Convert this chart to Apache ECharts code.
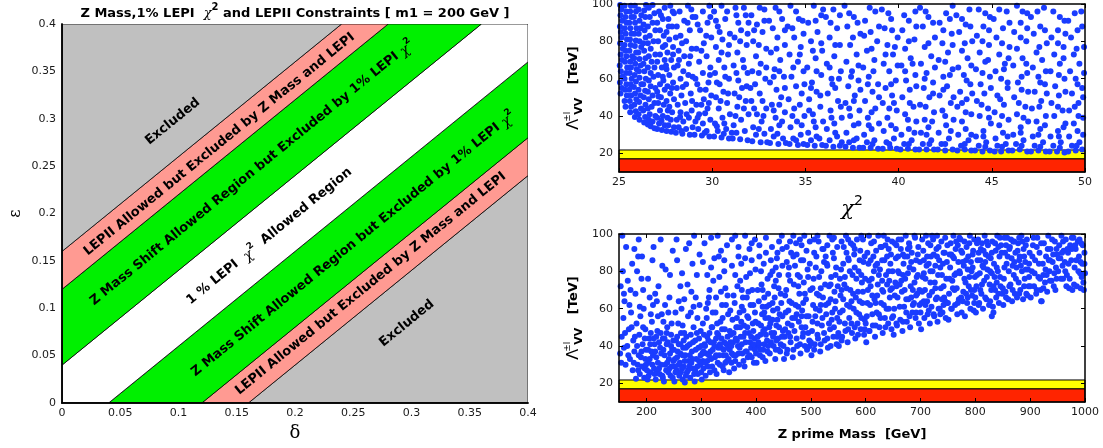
<!DOCTYPE html>
<html>
<head>
<meta charset="utf-8">
<script src="https://cdn.jsdelivr.net/npm/echarts@6/dist/echarts.min.js"></script>
<style>
  html, body { margin: 0; padding: 0; background: #ffffff; }
  #chart { width: 1103px; height: 448px; }
</style>
</head>
<body>
<div id="chart"></div>
<script>
// ---------------- data ----------------
// left panel: regions of the (delta, epsilon) plane bounded by epsilon - delta = const
const deltaRange = [0, 0.4];
const epsRange = [0, 0.4];
const bandEdges = [-0.4, -0.16, -0.12, -0.04, 0.04, 0.12, 0.16, 0.4];
const bandKinds = ['excluded', 'lepii', 'zshift', 'lepi', 'zshift', 'lepii', 'excluded'];

const regionTexts = [
  'Excluded',
  'LEPII Allowed but Excluded by Z Mass and LEPI',
  'Z Mass Shift Allowed Region but Excluded by 1% LEPI {chi|χ}{sup|2}',
  '1 % LEPI  {chi|χ}{sup|2}  Allowed Region',
  'Z Mass Shift Allowed Region but Excluded by 1% LEPI {chi|χ}{sup|2}',
  'LEPII Allowed but Excluded by Z Mass and LEPI',
  'Excluded'
];
const regionTextAt = [
  [0.095, 0.297], [0.135, 0.273], [0.163, 0.243], [0.178, 0.176],
  [0.250, 0.168], [0.265, 0.126], [0.296, 0.084]
];

// right panels: LEP exclusion strips in Lambda [TeV]
const lepStrips = [[10, 17.1], [17.1, 21.8]];
const lambdaTicks = [20, 40, 60, 80, 100];
const massTicks = [200, 300, 400, 500, 600, 700, 800, 900, 1000];

// scan points: [chi^2, Lambda]
const chiSqPoints = [
[25.08,52],[25.15,55],[25.05,58],[25.18,61],[25.1,64],[25.04,67],[25.16,70],[25.09,73],[25.2,76],[25.06,79],[25.14,82],[25.1,85],[25.05,88],[25.17,91],[25.08,94],[25.12,97],[25.06,99.5],
[25.35,45],[25.3,48],[25.42,51],[25.33,54],[25.4,57],[25.3,60],[25.38,63],[25.44,66],[25.32,69],[25.4,72],[25.35,75],[25.3,78],[25.43,81],[25.36,84],[25.31,87],[25.41,90],[25.34,93],[25.39,96],[25.3,99],
[25.6,42],[25.65,45],[25.58,48],[25.66,51],[25.55,54],[25.62,57],[25.68,60],[25.57,63],[25.64,66],[25.6,69],[25.7,72],[25.56,75],[25.63,78],[25.59,81],[25.67,84],[25.61,87],[25.55,90],[25.66,93],[25.6,96],[25.64,99],
[25.85,39.5],[25.9,42.5],[25.82,46],[25.93,49],[25.86,52],[25.8,55.5],[25.91,58.5],[25.84,62],[25.95,65],[25.87,68],[25.81,71],[25.92,74],[25.85,77.5],[25.9,80.5],[25.83,84],[25.94,87],[25.86,90],[25.8,93],[25.91,96],[25.85,99],
[26.1,38],[26.05,41],[26.18,44],[26.08,47.5],[26.15,51],[26.05,54],[26.2,57],[26.1,60.5],[26.07,64],[26.16,67],[26.1,70.5],[26.04,74],[26.19,77],[26.1,80],[26.06,84],[26.15,87],[26.1,91],[26.2,94],[26.05,97],
[26.35,36.5],[26.4,39.5],[26.3,43],[26.42,46],[26.33,50],[26.4,53.5],[26.3,57],[26.44,60],[26.36,64],[26.31,68],[26.42,71],[26.35,75],[26.3,79],[26.43,82],[26.37,86],[26.32,89],[26.41,93],[26.35,96.5],[26.45,99.5],
[26.55,35.5],[26.7,34.5],[26.9,33.5],[26.6,38],[26.8,37],[26.65,41],[26.95,40],[26.55,44],[26.75,45],[26.9,47],[26.6,49],[26.8,51],[26.55,53],[26.7,56],[26.95,55],[26.6,59],[26.85,61],[26.7,63],[26.55,66],[26.9,66],[26.75,69],[26.6,72],[26.95,73],[26.7,76],[26.55,79],[26.85,80],[26.65,83],[26.95,86],[26.55,88],[26.8,90],[26.65,93],[26.9,95],[26.6,98],[26.8,99.5],
[27.05,33],[27.3,32.5],[27.15,36],[27.45,35],[27.05,39],[27.35,40],[27.2,43],[27.1,47],[27.4,46],[27.25,50],[27.05,53],[27.45,54],[27.2,57],[27.35,61],[27.1,62],[27.3,66],[27.05,69],[27.45,70],[27.2,73],[27.35,77],[27.1,80],[27.4,83],[27.2,86],[27.05,90],[27.35,92],[27.15,96],[27.45,98],
[27.55,32],[27.8,31.5],[27.65,35],[27.95,34],[27.6,39],[27.85,42],[27.7,45],[27.55,48],[27.95,49],[27.75,52],[27.6,56],[27.9,58],[27.7,62],[27.55,65],[27.95,66],[27.8,70],[27.6,74],[27.9,77],[27.7,81],[27.55,85],[27.85,88],[27.65,92],[27.95,95],[27.75,99],
[28.05,31],[28.4,30.5],[28.8,30],[28.2,34],[28.6,33],[28.95,34],[28.1,38],[28.45,37],[28.75,39],[28.3,42],[28.9,43],[28.15,46],[28.55,47],[28.35,51],[28.85,52],[28.1,55],[28.6,57],[28.3,60],[28.95,61],[28.45,64],[28.15,67],[28.75,68],[28.5,72],[28.2,75],[28.9,76],[28.6,80],[28.3,83],[28.8,86],[28.1,88],[28.5,91],[28.95,93],[28.25,96],[28.7,99],
[29.05,30],[29.45,29.5],[29.85,29],[29.25,33],[29.7,32],[29.1,37],[29.5,36],[29.9,38],[29.3,41],[29.75,44],[29.15,46],[29.55,49],[29.95,51],[29.35,54],[29.8,58],[29.1,60],[29.5,63],[29.9,66],[29.3,69],[29.7,72],[29.15,76],[29.55,79],[29.95,82],[29.35,86],[29.75,90],[29.1,93],[29.5,96],[29.85,99],
[30.1,29],[30.5,28.5],[30.9,28],[30.3,32],[30.75,33],[30.15,36],[30.55,39],[30.95,41],[30.35,44],[30.8,47],[30.2,50],[30.6,53],[30.4,57],[30.9,60],[30.15,63],[30.65,66],[30.35,70],[30.85,73],[30.2,77],[30.55,81],[30.95,84],[30.3,88],[30.7,92],[30.1,96],[30.5,99],
[31.1,28],[31.5,27.5],[31.9,27],[31.3,31],[31.75,32],[31.15,35],[31.55,38],[31.95,41],[31.35,45],[31.8,48],[31.2,52],[31.6,55],[31.4,59],[31.9,63],[31.15,67],[31.65,70],[31.35,74],[31.85,78],[31.2,82],[31.55,86],[31.95,90],[31.3,94],[31.7,98],
[32.15,26.5],[32.6,26],[32.95,26],[32.35,30],[32.8,30.5],[32.2,34],[32.65,37],[32.4,41],[32.9,44],[32.1,48],[32.55,52],[32.3,57],[32.85,60],[32.15,64],[32.6,68],[32.35,72],[32.9,76],[32.2,80],[32.7,85],[32.4,89],[32.1,94],[32.8,97],
[33.1,25.5],[33.55,25],[33.95,25.5],[33.3,29],[33.8,28],[33.15,33],[33.6,35],[33.4,39],[33.9,42],[33.2,46],[33.7,50],[33.45,54],[33.1,58],[33.85,61],[33.35,65],[33.65,70],[33.15,74],[33.9,78],[33.5,82],[33.25,87],[33.75,92],[33.4,98],
[34.15,25],[34.6,24.5],[34.9,25],[34.35,28],[34.75,30],[34.2,34],[34.55,37],[34.95,40],[34.4,44],[34.1,49],[34.8,52],[34.5,56],[34.25,61],[34.9,64],[34.6,69],[34.15,73],[34.75,77],[34.4,82],[34.05,88],[34.85,91],[34.5,96],[34.2,99],
[35.1,24.5],[35.5,24],[35.9,24.5],[35.3,27],[35.75,28],[35.15,31],[35.55,34],[35.95,37],[35.4,41],[35.8,45],[35.2,49],[35.6,53],[35.35,58],[35.85,62],[35.1,66],[35.55,71],[35.9,75],[35.3,80],[35.65,85],[35.15,90],[35.85,94],[35.45,99],
[36.1,24],[36.5,23.5],[36.85,24],[36.3,27],[36.7,29],[36.15,33],[36.55,36],[36.95,39],[36.35,43],[36.75,48],[36.2,52],[36.6,55],[36.4,60],[36.9,64],[36.15,68],[36.55,72],[36.85,78],[36.3,82],[36.7,87],[36.1,93],[36.5,97],
[37.15,23.5],[37.55,23],[37.9,23],[37.35,26],[37.75,28],[37.2,31],[37.6,35],[37.4,40],[37.9,43],[37.15,47],[37.65,51],[37.3,56],[37.85,59],[37.5,64],[37.2,69],[37.75,73],[37.4,78],[37.95,84],[37.25,88],[37.6,93],[37.1,99],
[38.1,23],[38.5,23],[38.9,22.5],[38.3,26],[38.7,27],[38.15,30],[38.55,33],[38.95,36],[38.35,39],[38.75,44],[38.2,48],[38.6,53],[38.9,57],[38.4,61],[38.1,66],[38.7,70],[38.3,75],[38.85,80],[38.5,85],[38.2,91],[38.75,96],
[39.15,22.5],[39.55,23],[39.9,22.5],[39.35,26],[39.75,28],[39.2,32],[39.6,35],[39.4,39],[39.9,43],[39.15,47],[39.65,51],[39.3,55],[39.85,59],[39.5,64],[39.2,68],[39.7,73],[39.4,78],[39.95,82],[39.25,87],[39.6,92],[39.1,97],
[40.1,22],[40.5,22.5],[40.9,22],[40.3,25],[40.7,27],[40.15,30],[40.55,33],[40.95,37],[40.35,41],[40.8,45],[40.2,50],[40.6,54],[40.4,59],[40.9,62],[40.15,67],[40.65,71],[40.35,76],[40.85,81],[40.2,86],[40.55,91],[40.9,96],
[41.1,22],[41.5,22],[41.9,22],[41.3,25],[41.75,27],[41.2,31],[41.6,34],[41.4,38],[41.9,42],[41.15,46],[41.65,50],[41.35,55],[41.85,58],[41.5,63],[41.2,68],[41.75,72],[41.4,77],[41.95,82],[41.3,88],[41.6,93],[41.15,98],
[42.1,22],[42.5,21.5],[42.9,22],[42.3,25],[42.7,28],[42.15,31],[42.55,35],[42.95,38],[42.35,43],[42.8,47],[42.2,51],[42.6,56],[42.4,61],[42.9,65],[42.15,70],[42.65,74],[42.35,79],[42.85,84],[42.2,90],[42.55,95],[42.9,99],
[43.15,21.5],[43.55,22],[43.9,21.5],[43.35,24],[43.75,27],[43.2,30],[43.6,33],[43.4,37],[43.9,41],[43.15,45],[43.65,49],[43.3,53],[43.85,57],[43.5,62],[43.2,66],[43.7,71],[43.4,75],[43.95,80],[43.25,85],[43.6,89],[43.1,94],[43.8,97],
[44.1,21.5],[44.5,21],[44.9,21.5],[44.3,24],[44.7,26],[44.15,29],[44.55,32],[44.95,36],[44.35,40],[44.8,44],[44.2,48],[44.6,52],[44.4,57],[44.9,61],[44.15,65],[44.65,69],[44.35,74],[44.85,78],[44.2,83],[44.55,88],[44.9,93],[44.3,97],
[45.15,21],[45.5,21],[45.9,21.5],[45.3,24],[45.75,25],[45.2,28],[45.6,31],[45.4,35],[45.9,38],[45.15,42],[45.65,46],[45.3,51],[45.85,55],[45.5,60],[45.2,64],[45.7,68],[45.4,73],[45.95,77],[45.25,82],[45.6,87],[45.1,92],[45.8,96],
[46.1,21.5],[46.5,22],[46.9,21],[46.3,25],[46.7,27],[46.15,30],[46.55,34],[46.95,37],[46.35,41],[46.8,45],[46.2,50],[46.6,54],[46.4,58],[46.9,63],[46.15,67],[46.65,71],[46.35,76],[46.85,80],[46.2,85],[46.55,90],[46.9,95],[46.35,99],
[47.1,21],[47.5,21.5],[47.9,21],[47.3,24],[47.75,26],[47.2,29],[47.6,33],[47.4,37],[47.9,40],[47.15,44],[47.65,48],[47.3,53],[47.85,57],[47.5,61],[47.2,66],[47.7,70],[47.4,74],[47.95,79],[47.25,84],[47.6,88],[47.1,93],[47.8,98],
[48.1,21],[48.5,21],[48.9,20.5],[48.3,24],[48.7,26],[48.15,29],[48.55,32],[48.95,36],[48.35,40],[48.8,43],[48.2,47],[48.6,51],[48.4,56],[48.9,60],[48.15,64],[48.65,68],[48.35,73],[48.85,77],[48.2,82],[48.55,86],[48.9,91],[48.3,96],
[49.1,21],[49.5,21.5],[49.85,22],[49.3,24],[49.7,26],[49.15,29],[49.6,32],[49.4,36],[49.9,39],[49.15,43],[49.65,47],[49.3,52],[49.85,55],[49.5,60],[49.2,64],[49.7,68],[49.4,73],[49.95,77],[49.25,82],[49.6,86],[49.1,91],[49.8,96],
[27.28,37.5],[27.62,43],[27.83,55],[27.38,59],[27.9,73],[27.48,78],[27.67,88],[27.25,94],[27.88,96],[27.52,67],[27.12,50.5],[27.78,38],
[28.28,39.5],[28.63,41],[28.92,48],[28.42,55.5],[28.72,62],[28.22,70],[28.82,72],[28.38,79],[28.68,90],[28.05,82],[28.88,97],[28.35,32],
[29.22,39],[29.62,41.5],[29.42,46],[29.82,47],[29.65,54],[29.2,57],[29.88,62],[29.42,75],[29.68,83],[29.22,89],[29.9,93],[29.6,31],
[30.25,34.5],[30.65,36],[30.45,48],[30.85,52],[30.25,58],[30.7,61],[30.5,74],[30.9,78],[30.4,85],[30.8,96],[30.2,91],[30.62,30.5],
[31.25,40],[31.7,44],[31.45,50],[31.85,56],[31.3,63],[31.7,66],[31.5,80],[31.9,84],[31.4,90],[31.8,94],[31.25,98],[31.05,31],
[32.5,33],[32.75,40],[32.25,44],[32.7,48],[32.5,63],[32.9,66],[32.5,78],[32.25,86],[32.8,91],[32.55,98],[32.05,55],
[33.5,30.5],[33.75,37],[33.3,43],[33.6,46],[33.9,55],[33.3,61],[33.6,64],[33.45,76],[33.9,86],[33.05,91],[33.6,96],
[34.5,27],[34.8,35],[34.3,40],[34.7,46],[34.95,57],[34.35,66],[34.7,73],[34.9,84],[34.3,87],[34.65,92],
[35.6,29],[35.45,37],[35.8,51],[35.3,55],[35.6,64],[35.4,75],[35.85,79],[35.55,91],[35.95,97],[35.2,43],
[36.6,31],[36.4,39],[36.9,45],[36.45,57],[36.8,60],[36.3,66],[36.6,78],[36.35,90],[36.85,94],[36.95,26],
[37.6,27],[37.85,36],[37.35,44],[37.6,48],[37.95,54],[37.45,61],[37.85,67],[37.55,82],[37.35,95],[37.8,90],
[38.6,25],[38.4,35],[38.55,42],[38.95,50],[38.35,57],[38.65,64],[38.55,76],[38.15,83],[38.95,88],[38.45,98],
[39.5,25],[39.85,33],[39.5,44],[39.75,47],[39.6,57],[39.95,67],[39.3,73],[39.8,77],[39.65,86],[39.45,95],
[40.55,25],[40.85,31],[40.5,38],[40.6,47],[40.95,56],[40.35,64],[40.75,68],[40.55,80],[40.95,88],[40.3,94],
[41.65,25],[41.5,30],[41.8,37],[41.45,45],[41.85,52],[41.4,60],[41.95,66],[41.6,79],[41.85,90],[41.45,96],
[42.5,25],[42.8,32],[42.5,40],[42.95,50],[42.4,54],[42.75,62],[42.5,69],[42.9,78],[42.4,86],[42.75,92],
[43.55,25],[43.9,30],[43.6,42],[43.4,47],[43.95,52],[43.65,59],[43.9,67],[43.55,79],[43.85,88],[43.4,92],
[44.65,23.5],[44.55,29],[44.85,39],[44.45,46],[44.95,55],[44.5,63],[44.8,70],[44.5,80],[44.85,86],[44.65,95],
[45.55,23.5],[45.85,29],[45.55,40],[45.45,49],[45.85,58],[45.65,65],[45.9,71],[45.55,79],[45.95,90],[45.4,97],
[46.6,24],[46.55,31],[46.7,39],[46.45,47],[46.95,53],[46.6,61],[46.85,68],[46.55,82],[46.9,87],[46.65,96],
[47.6,23.5],[47.5,30],[47.85,35],[47.55,45],[47.95,52],[47.6,58],[47.9,64],[47.55,77],[47.85,86],[47.45,96],
[48.65,23],[48.6,29],[48.85,34],[48.55,45],[48.95,53],[48.6,62],[48.85,71],[48.55,79],[48.95,84],[48.65,93],
[49.55,24],[49.9,30],[49.65,40],[49.45,45],[49.9,50],[49.6,57],[49.95,63],[49.55,76],[49.85,88],[49.45,95]
];

// scan points: [Z' mass in GeV, Lambda]
const zMassPoints = [
[152,36],[155,45],[158,55],[160,64],[153,72],[157,80],[162,30],[165,40],[168,49],[170,33],[172,58],[175,27],[176,43],[178,37],[180,68],[182,52],[184,30],[185,88],[187,46],[188,25],[190,34],[191,76],[193,41],[195,60],[196,23],[197,28],[198,49],[199,38],[163,93],[186,97],[174,84],[194,70],[181,22.5],[189,56],[166,75],[156,99],
[202,22],[204,31],[205,44],[207,26],[209,37],[210,53],[212,62],[214,28],[215,41],[217,22],[218,34],[220,48],[222,72],[224,25],[225,39],[227,30],[228,57],[230,44],[232,21],[233,35],[235,81],[236,27],[238,50],[239,42],[241,33],[242,66],[244,24],[245,46],[247,38],[248,91],[211,86],[226,97],[240,58],[203,76],[219,64],[246,29],[231,53],[208,47],
[251,21],[252,33],[254,43],[255,27],[257,37],[258,52],[260,24],[261,31],[263,47],[264,60],[266,22],[267,39],[268,29],[270,20.5],[271,35],[273,45],[274,26],[276,56],[277,32],[279,41],[280,23],[282,69],[283,37],[285,28],[286,50],[288,21],[289,43],[291,33],[292,78],[294,25],[295,39],[297,62],[298,30],[299,48],[256,86],[272,92],[287,99],[262,72],[284,84],[269,65],[293,55],
[301,22],[302,36],[304,28],[305,46],[307,40],[308,24],[310,55],[311,32],[313,43],[314,66],[316,26],[317,37],[319,50],[320,29],[322,75],[323,42],[325,34],[326,58],[328,25],[329,47],[331,39],[332,88],[334,30],[335,53],[337,44],[338,62],[340,35],[341,27],[343,49],[344,71],[346,41],[347,32],[349,57],[306,95],[318,82],[330,99],[342,80],[312,63],[336,91],[348,67],
[351,26],[352,38],[354,46],[355,31],[357,54],[358,42],[360,28],[361,63],[363,35],[364,50],[366,72],[367,40],[369,30],[370,58],[372,45],[373,84],[375,36],[376,66],[378,51],[379,29],[381,42],[382,77],[384,56],[385,34],[387,47],[388,92],[390,62],[391,39],[393,70],[394,52],[396,31],[397,44],[399,81],[356,97],[368,88],[380,99],[392,95],[362,78],[374,61],[398,58],[386,69],
[401,31],[402,40],[404,52],[405,64],[407,35],[408,46],[410,73],[411,57],[413,38],[414,84],[416,49],[417,32],[419,61],[420,43],[422,68],[423,55],[425,36],[426,78],[428,47],[429,93],[431,59],[432,40],[434,66],[435,33],[437,51],[438,87],[440,44],[441,71],[443,57],[444,37],[446,63],[447,99],[449,48],[406,94],[418,90],[430,80],[442,96],[412,70],[424,62],[436,75],[448,83],[415,41],[439,54],
[451,33],[452,45],[454,58],[455,70],[457,38],[458,52],[460,82],[461,64],[463,42],[464,90],[466,55],[467,34],[469,73],[470,48],[472,62],[473,95],[475,40],[476,78],[478,53],[479,68],[481,36],[482,86],[484,59],[485,45],[487,74],[488,99],[490,50],[491,65],[493,38],[494,81],[496,56],[497,43],[499,70],[456,93],[468,88],[480,97],[492,91],[462,75],[474,57],[486,63],[498,84],[459,47],[483,50],
[501,35],[502,48],[504,62],[505,76],[507,41],[508,56],[510,88],[511,68],[513,44],[514,96],[516,59],[517,37],[519,80],[520,51],[522,66],[523,92],[525,43],[526,73],[528,57],[529,84],[531,39],[532,63],[534,99],[535,49],[537,77],[538,54],[540,90],[541,45],[543,69],[544,60],[546,82],[547,41],[549,72],[506,97],[518,71],[530,94],[542,98],[512,52],[524,85],[536,65],[548,55],
[551,40],[552,53],[554,67],[555,81],[557,45],[558,59],[560,93],[561,73],[563,48],[564,99],[566,62],[567,42],[569,86],[570,55],[572,70],[573,95],[575,47],[576,78],[578,60],[579,89],[581,44],[582,66],[584,97],[585,52],[587,80],[588,57],[590,91],[591,49],[593,74],[594,63],[596,85],[597,46],[599,76],[556,96],[568,87],[580,92],[592,99],[562,77],[574,64],[586,69],[598,54],
[601,42],[602,56],[604,70],[605,84],[607,48],[608,62],[610,95],[611,76],[613,51],[614,88],[616,65],[617,45],[619,91],[620,58],[622,73],[623,99],[625,50],[626,81],[628,63],[629,93],[631,47],[632,69],[634,86],[635,55],[637,78],[638,60],[640,97],[641,52],[643,75],[644,66],[646,89],[647,49],[649,80],[606,99],[618,83],[630,75],[642,92],[612,67],[624,57],[636,94],[648,71],
[651,46],[652,60],[654,74],[655,87],[657,51],[658,66],[660,97],[661,79],[663,54],[664,92],[666,69],[667,48],[669,84],[670,61],[672,76],[673,99],[675,53],[676,88],[678,65],[679,95],[681,50],[682,72],[684,90],[685,58],[687,81],[688,63],[690,98],[691,55],[693,77],[694,68],[696,93],[697,52],[699,85],[656,94],[668,89],[680,82],[692,86],[662,73],[674,58],[686,70],[698,62],
[701,49],[702,63],[704,77],[705,91],[707,55],[708,70],[710,99],[711,83],[713,57],[714,95],[716,67],[717,52],[719,88],[720,61],[722,80],[723,97],[725,56],[726,74],[728,65],[729,92],[731,53],[732,78],[734,86],[735,60],[737,71],[738,96],[740,58],[741,84],[743,66],[744,90],[746,55],[747,76],[749,94],[706,86],[718,74],[730,99],[742,72],[712,64],[724,89],[736,82],[748,63],
[751,54],[752,68],[754,82],[755,95],[757,60],[758,75],[760,99],[761,87],[763,62],[764,92],[766,71],[767,57],[769,85],[770,65],[772,79],[773,97],[775,58],[776,90],[778,69],[779,83],[781,56],[782,74],[784,93],[785,63],[787,88],[788,72],[790,99],[791,60],[793,80],[794,67],[796,91],[797,59],[799,77],[756,89],[768,94],[780,96],[792,85],[762,78],[774,66],[786,81],[798,70],
[801,58],[802,72],[804,86],[805,97],[807,63],[808,79],[810,92],[811,68],[813,83],[814,60],[816,75],[817,99],[819,89],[820,65],[822,81],[823,94],[825,62],[826,73],[828,87],[829,70],[831,96],[832,61],[834,84],[835,77],[837,91],[838,66],[840,99],[841,80],[843,63],[844,88],[846,72],[847,94],[849,68],[806,90],[818,85],[830,79],[842,93],[812,95],[836,70],
[851,62],[852,76],[854,90],[855,69],[857,84],[858,98],[860,65],[861,80],[863,93],[864,73],[866,87],[867,64],[869,96],[870,78],[872,68],[873,90],[875,82],[876,66],[878,95],[879,74],[881,88],[882,70],[884,99],[885,80],[887,65],[888,92],[890,76],[891,85],[893,68],[894,97],[896,81],[897,72],[899,90],[856,94],[868,83],[880,98],[892,94],
[901,66],[903,80],[905,94],[907,72],[909,86],[911,68],[913,98],[915,77],[917,90],[919,70],[921,64],[923,84],[925,95],[927,74],[929,88],[931,69],[933,99],[935,80],[937,92],[939,75],[941,85],[943,72],[945,96],[947,82],[949,89],[912,93],[924,78],[936,86],[948,76],
[951,80],[953,94],[955,87],[957,99],[959,83],[961,91],[963,85],[965,97],[967,78],[969,90],[971,71],[973,94],[975,86],[977,70],[979,98],[981,82],[983,92],[985,72],[987,96],[989,88],[991,79],[993,95],[995,84],[997,74],[999,90],[960,76],[976,92],[992,85],[998,70],
[154,31],[159,39],[161,47],[167,35],[169,62],[173,50],[177,31],[179,45],[183,40],[186,35],[188,61],[192,29],[194,50],[197,44],[159,68],[171,70],[183,80],[178,92],[192,88],[199,30],
[201,27],[203,38],[206,33],[208,57],[211,30],[213,44],[216,37],[219,26],[221,31],[223,42],[226,47],[229,24],[231,38],[234,30],[237,41],[240,26],[243,36],[246,52],[249,32],[216,68],[234,62],[243,78],[213,93],[229,83],[206,66],[237,47],[221,56],[249,43],
[250,38],[253,26],[256,45],[259,30],[262,36],[265,28],[268,43],[270,32],[272,24],[275,40],[278,29],[281,46],[284,33],[287,25],[290,38],[293,29],[296,44],[299,35],[253,58],[259,64],[266,51],[275,73],[281,58],[290,66],[297,89],[265,79],[255,97],[278,95],[286,61],[262,41],
[300,26],[303,32],[306,41],[309,36],[312,29],[315,47],[318,33],[321,38],[324,27],[327,44],[330,31],[333,35],[336,39],[339,29],[342,42],[345,35],[348,45],[303,52],[309,60],[315,70],[321,58],[327,66],[333,77],[339,55],[345,62],[311,78],[324,87],[347,94],[336,69],[318,98],[303,85],[342,86],[329,52],
[350,33],[353,42],[356,36],[359,47],[362,32],[365,43],[368,36],[371,50],[374,41],[377,32],[380,47],[383,37],[386,55],[389,42],[392,34],[395,48],[398,38],[353,59],[359,67],[365,55],[371,75],[377,59],[383,66],[389,79],[395,62],[356,83],[368,93],[380,87],[392,86],[362,99],[398,97],[374,70],
[400,36],[403,45],[406,41],[409,51],[412,34],[415,58],[418,46],[421,37],[424,50],[427,42],[430,54],[433,47],[436,38],[439,60],[442,50],[445,41],[448,56],[403,70],[409,80],[415,66],[421,76],[427,86],[433,72],[439,90],[445,68],[406,88],[418,98],[430,63],[442,78],[448,92],[412,61],[436,82],
[450,40],[453,49],[456,36],[459,59],[462,45],[465,51],[468,38],[471,55],[474,44],[477,61],[480,41],[483,56],[486,47],[489,40],[492,56],[495,47],[498,40],[453,67],[459,78],[465,63],[471,83],[477,72],[483,94],[489,68],[495,77],[456,85],[468,99],[474,89],[486,86],[498,96],[462,96],[480,77],
[500,42],[503,53],[506,38],[509,60],[512,46],[515,67],[518,41],[521,55],[524,47],[527,62],[530,44],[533,52],[536,40],[539,58],[542,50],[545,64],[548,45],[503,71],[509,82],[515,77],[521,92],[527,88],[533,72],[539,97],[545,78],[506,90],[518,62],[530,83],[542,87],[548,93],[512,99],[536,73],
[550,47],[553,58],[556,43],[559,65],[562,52],[565,71],[568,49],[571,61],[574,52],[577,68],[580,50],[583,58],[586,46],[589,64],[592,55],[595,69],[598,49],[553,76],[559,84],[565,90],[571,80],[577,94],[583,76],[589,86],[595,97],[556,70],[568,97],[580,82],[592,78],[598,88],
[600,52],[603,63],[606,48],[609,72],[612,57],[615,80],[618,51],[621,67],[624,78],[627,55],[630,86],[633,62],[636,50],[639,73],[642,60],[645,84],[648,55],[603,90],[609,86],[615,96],[621,84],[627,93],[633,99],[639,88],[645,70],[606,75],[618,63],[630,70],[642,80],[648,96],
[650,56],[653,67],[656,52],[659,80],[662,61],[665,75],[668,53],[671,88],[674,65],[677,79],[680,56],[683,85],[686,62],[689,74],[692,58],[695,89],[698,70],[653,95],[659,88],[665,97],[671,70],[677,92],[683,66],[689,99],[695,78],[656,72],[668,78],[680,93],[692,67],
[700,58],[703,69],[706,79],[709,62],[712,88],[715,59],[718,94],[721,69],[724,57],[727,83],[730,66],[733,93],[736,57],[739,78],[742,90],[745,64],[748,85],[703,97],[709,76],[715,84],[721,99],[727,71],[733,60],[739,65],[745,98],[706,64],[718,80],[730,88],[742,62],
[750,63],[753,76],[756,60],[759,88],[762,70],[765,96],[768,63],[771,80],[774,91],[777,64],[780,76],[783,86],[786,66],[789,95],[792,70],[795,82],[798,63],[753,89],[759,71],[765,79],[771,98],[777,85],[783,68],[789,77],[795,89],[798,97],
[800,66],[803,78],[806,62],[809,86],[812,73],[815,91],[818,66],[821,77],[824,88],[827,64],[830,90],[833,72],[836,95],[839,82],[842,68],[845,77],[848,90],[803,95],[809,70],[815,82],[821,96],[827,80],[833,58],[839,74],[845,98],[830,56],
[850,71],[853,82],[856,66],[859,88],[862,72],[865,97],[868,70],[871,85],[874,76],[877,91],[880,68],[883,83],[886,96],[889,72],[892,81],[895,67],[898,84],[853,98],[862,92],[871,96],[880,86],[889,88],[898,77],
[900,72],[904,88],[908,79],[912,70],[916,84],[920,95],[924,71],[928,81],[932,92],[936,75],[940,97],[944,79],[948,92],[906,98],[918,76],[930,78],[942,89],[946,70],[920,64],[934,86],
[952,87],[956,76],[960,96],[964,80],[968,92],[972,76],[976,98],[980,73],[984,86],[988,80],[992,71],[996,94],[1000,79],[958,90],[970,84],[982,94],[994,77],[966,72],[990,97],[999,84],
[185,27],[191,37],[198,33],[204,24],[207,41],[212,35],[215,25],[218,45],[223,28],[227,36],[230,23],[233,44],[238,31],[242,28],[245,40],[248,23],[252,29],[256,34],[259,41],[263,26],[266,35],[269,47],[272,39],[276,27],[279,35],[282,31],[285,42],[289,27],[292,47],[296,32],
[300,40],[304,37],[307,31],[311,45],[314,35],[317,42],[320,50],[324,40],[327,35],[331,46],[334,41],[338,49],[341,38],[344,31],[349,39],[352,48],[355,40],[359,35],[363,44],[366,50],
[370,39],[373,53],[377,45],[381,37],[384,50],[388,35],[391,45],[395,41],[399,53],[404,42],[408,38],[413,48],[417,55],[422,40],[426,52],[431,45],[437,43],[441,38],[447,45]
];

// ---------------- styling ----------------
const FONT = '"DejaVu Sans", "Liberation Sans", Arial, sans-serif';
const kindFill = { excluded: '#c0c0c0', lepii: '#ff9a92', zshift: '#00f000', lepi: '#ffffff' };
const stripFill = ['#ff2400', '#ffff00'];
const dotColor = '#1a3cff';

// clip a polygon against the half plane f(p) >= 0
function clipHalf(poly, f) {
  const out = [];
  for (let i = 0; i < poly.length; i++) {
    const a = poly[i], b = poly[(i + 1) % poly.length];
    const fa = f(a), fb = f(b);
    if (fa >= 0) out.push(a);
    if ((fa >= 0) !== (fb >= 0)) {
      const t = fa / (fa - fb);
      out.push([a[0] + t * (b[0] - a[0]), a[1] + t * (b[1] - a[1])]);
    }
  }
  return out;
}
function bandPolygon(lo, hi) {
  let poly = [[deltaRange[0], epsRange[0]], [deltaRange[1], epsRange[0]],
              [deltaRange[1], epsRange[1]], [deltaRange[0], epsRange[1]]];
  poly = clipHalf(poly, p => (p[1] - p[0]) - lo);
  poly = clipHalf(poly, p => hi - (p[1] - p[0]));
  return poly;
}

const bandData = bandKinds.map((k, i) => [bandEdges[i], bandEdges[i + 1], i]);

const tickLabel = { color: '#1a1a1a', fontSize: 11, fontFamily: FONT };
const insideTick = { show: true, inside: true, length: 4, lineStyle: { color: '#000' } };

function frameAxis(extra) {
  return Object.assign({
    type: 'value', z: 10,
    axisLine: { show: true, lineStyle: { color: '#000', width: 1.5 } },
    axisTick: { show: false },
    axisLabel: { show: false },
    splitLine: { show: false }
  }, extra);
}

const lambdaName = '{L|Λ}{p|±l}{v|VV}{u|   [TeV]}';
const lambdaRich = {
  L: { fontFamily: FONT, fontSize: 16, color: '#000', lineHeight: 22, verticalAlign: 'middle' },
  p: { fontFamily: FONT, fontSize: 9, color: '#000', lineHeight: 22, verticalAlign: 'top', width: 4 },
  v: { fontFamily: FONT, fontWeight: 'bold', fontSize: 11, color: '#000', lineHeight: 22, verticalAlign: 'bottom' },
  u: { fontFamily: FONT, fontWeight: 'bold', fontSize: 13, color: '#000', lineHeight: 22, verticalAlign: 'middle' }
};

const chart = echarts.init(document.getElementById('chart'), null, { renderer: 'canvas' });

const option = {
  animation: false,
  backgroundColor: '#ffffff',
  textStyle: { fontFamily: FONT },
  grid: [
    { left: 62, top: 24, width: 466, height: 379, outerBoundsMode: 'none', containLabel: false },
    { left: 619, top: 4, width: 466, height: 168, outerBoundsMode: 'none', containLabel: false },
    { left: 619, top: 234, width: 466, height: 168, outerBoundsMode: 'none', containLabel: false }
  ],
  graphic: [{
    type: 'text', x: 295, y: 11, z: 20,
    style: {
      text: '{b|Z Mass,1% LEPI  }{c|χ}{s|2}{b| and LEPII Constraints [ m1 = 200 GeV ]}',
      align: 'center', verticalAlign: 'middle', fill: '#000',
      rich: {
        b: { fontFamily: FONT, fontWeight: 'bold', fontSize: 13, fill: '#000', lineHeight: 18, verticalAlign: 'bottom' },
        c: { fontFamily: 'DejaVu Serif', fontStyle: 'italic', fontSize: 13, fill: '#000', lineHeight: 18, verticalAlign: 'bottom' },
        s: { fontFamily: FONT, fontWeight: 'bold', fontSize: 10, fill: '#000', lineHeight: 18, verticalAlign: 'top' }
      }
    }
  }],
  xAxis: [
    frameAxis({
      gridIndex: 0, min: deltaRange[0], max: deltaRange[1], interval: 0.05,
      axisLabel: Object.assign({ show: true, margin: 5, showMinLabel: true, showMaxLabel: true }, tickLabel),
      name: 'δ', nameLocation: 'middle', nameGap: 20,
      nameTextStyle: { fontSize: 18, color: '#000', fontFamily: 'DejaVu Serif' }
    }),
    frameAxis({ gridIndex: 0, position: 'top', min: deltaRange[0], max: deltaRange[1] }),
    frameAxis({
      gridIndex: 1, min: 25, max: 50, interval: 5,
      axisTick: insideTick,
      axisLabel: Object.assign({ show: true, margin: 5, showMinLabel: true, showMaxLabel: true }, tickLabel),
      name: '{c|χ}{s|2}', nameLocation: 'middle', nameGap: 22,
      nameTextStyle: {
        rich: {
          c: { fontFamily: 'DejaVu Serif', fontStyle: 'italic', fontSize: 21, color: '#000', lineHeight: 26, verticalAlign: 'bottom' },
          s: { fontFamily: FONT, fontSize: 14, color: '#000', lineHeight: 26, verticalAlign: 'top' }
        }
      }
    }),
    frameAxis({ gridIndex: 1, position: 'top', min: 25, max: 50, interval: 5, axisTick: insideTick }),
    frameAxis({
      gridIndex: 2, min: 150, max: 1000,
      axisTick: Object.assign({ customValues: massTicks }, insideTick),
      axisLabel: Object.assign({ show: true, margin: 5, customValues: massTicks, formatter: v => String(v) }, tickLabel),
      name: 'Z prime Mass  [GeV]', nameLocation: 'middle', nameGap: 26,
      nameTextStyle: { fontSize: 13, fontWeight: 'bold', color: '#000', fontFamily: FONT }
    }),
    frameAxis({ gridIndex: 2, position: 'top', min: 150, max: 1000,
      axisTick: Object.assign({ customValues: massTicks }, insideTick) })
  ],
  yAxis: [
    frameAxis({
      gridIndex: 0, min: epsRange[0], max: epsRange[1], interval: 0.05,
      axisLabel: Object.assign({ show: true, margin: 6, showMinLabel: true, showMaxLabel: true }, tickLabel),
      name: 'ε', nameLocation: 'middle', nameGap: 38, nameRotate: 90,
      nameTextStyle: { fontSize: 16, color: '#000', fontFamily: 'DejaVu Serif' }
    }),
    frameAxis({ gridIndex: 0, position: 'right', min: epsRange[0], max: epsRange[1] }),
    frameAxis({
      gridIndex: 1, min: 10, max: 100,
      axisTick: Object.assign({ customValues: lambdaTicks }, insideTick),
      axisLabel: Object.assign({ show: true, margin: 6, customValues: lambdaTicks }, tickLabel),
      name: lambdaName, nameLocation: 'middle', nameGap: 34, nameRotate: 90,
      nameTextStyle: { rich: lambdaRich }
    }),
    frameAxis({ gridIndex: 1, position: 'right', min: 10, max: 100,
      axisTick: Object.assign({ customValues: lambdaTicks }, insideTick) }),
    frameAxis({
      gridIndex: 2, min: 10, max: 100,
      axisTick: Object.assign({ customValues: lambdaTicks }, insideTick),
      axisLabel: Object.assign({ show: true, margin: 6, customValues: lambdaTicks }, tickLabel),
      name: lambdaName, nameLocation: 'middle', nameGap: 34, nameRotate: 90,
      nameTextStyle: { rich: lambdaRich }
    }),
    frameAxis({ gridIndex: 2, position: 'right', min: 10, max: 100,
      axisTick: Object.assign({ customValues: lambdaTicks }, insideTick) })
  ],
  series: [
    // coloured regions of the delta-epsilon plane
    {
      type: 'custom', xAxisIndex: 0, yAxisIndex: 0, z: 1, clip: true,
      data: bandData,
      renderItem: function (params, api) {
        const lo = api.value(0), hi = api.value(1), idx = api.value(2);
        const pts = bandPolygon(lo, hi).map(p => api.coord(p));
        return {
          type: 'polygon',
          shape: { points: pts },
          style: { fill: kindFill[bandKinds[idx]], stroke: '#000', lineWidth: 0.8 }
        };
      }
    },
    // region captions, laid along the band direction
    {
      type: 'custom', xAxisIndex: 0, yAxisIndex: 0, z: 3,
      data: regionTextAt.map((p, i) => [p[0], p[1], i]),
      renderItem: function (params, api) {
        const c = api.coord([api.value(0), api.value(1)]);
        const a = api.coord([deltaRange[0], epsRange[0]]);
        const b = api.coord([deltaRange[1], epsRange[1]]);
        const ang = Math.atan2(a[1] - b[1], b[0] - a[0]);
        return {
          type: 'text', x: c[0], y: c[1], rotation: ang,
          style: {
            text: regionTexts[api.value(2)],
            align: 'center', verticalAlign: 'middle',
            fill: '#000',
            font: 'bold 13px ' + FONT,
            rich: {
              chi: { fontFamily: 'DejaVu Serif', fontStyle: 'italic', fontSize: 14, fill: '#000', lineHeight: 18, verticalAlign: 'bottom' },
              sup: { fontFamily: FONT, fontWeight: 'bold', fontSize: 9, fill: '#000', lineHeight: 18, verticalAlign: 'top' }
            }
          }
        };
      }
    },
    // LEP strips, chi^2 panel
    {
      type: 'custom', xAxisIndex: 2, yAxisIndex: 2, z: 1,
      data: lepStrips.map((s, i) => [s[0], s[1], i]),
      renderItem: function (params, api) {
        const p0 = api.coord([25, api.value(0)]);
        const p1 = api.coord([50, api.value(1)]);
        return {
          type: 'rect',
          shape: { x: p0[0], y: p1[1], width: p1[0] - p0[0], height: p0[1] - p1[1] },
          style: { fill: stripFill[api.value(2)], stroke: '#000', lineWidth: 1 }
        };
      }
    },
    // LEP strips, mass panel
    {
      type: 'custom', xAxisIndex: 4, yAxisIndex: 4, z: 1,
      data: lepStrips.map((s, i) => [s[0], s[1], i]),
      renderItem: function (params, api) {
        const p0 = api.coord([150, api.value(0)]);
        const p1 = api.coord([1000, api.value(1)]);
        return {
          type: 'rect',
          shape: { x: p0[0], y: p1[1], width: p1[0] - p0[0], height: p0[1] - p1[1] },
          style: { fill: stripFill[api.value(2)], stroke: '#000', lineWidth: 1 }
        };
      }
    },
    {
      type: 'scatter', xAxisIndex: 2, yAxisIndex: 2, z: 4,
      symbol: 'circle', symbolSize: 6,
      itemStyle: { color: dotColor, opacity: 1 },
      data: chiSqPoints
    },
    {
      type: 'scatter', xAxisIndex: 4, yAxisIndex: 4, z: 4,
      symbol: 'circle', symbolSize: 6,
      itemStyle: { color: dotColor, opacity: 1 },
      data: zMassPoints
    }
  ]
};
chart.setOption(option);
</script>
</body>
</html>
